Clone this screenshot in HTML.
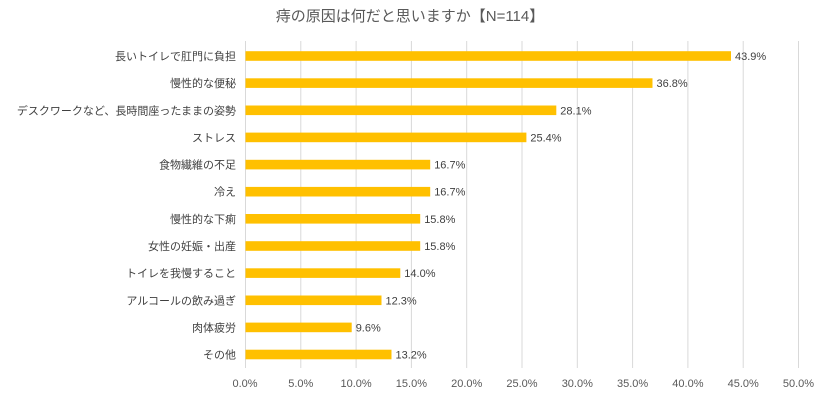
<!DOCTYPE html><html><head><meta charset="utf-8"><style>body{margin:0;background:#fff}</style></head><body>
<svg width="826" height="402" xmlns="http://www.w3.org/2000/svg" font-family="'Liberation Sans','Noto Sans CJK JP',sans-serif">
<rect width="826" height="402" fill="#fff"/>
<text x="410" y="21" text-anchor="middle" font-size="15" fill="#595959">痔の原因は何だと思いますか【N=114】</text>
<g stroke="#d9d9d9" stroke-width="1">
<line x1="245.5" y1="41" x2="245.5" y2="368"/><line x1="300.8" y1="41" x2="300.8" y2="368"/><line x1="356.1" y1="41" x2="356.1" y2="368"/><line x1="411.4" y1="41" x2="411.4" y2="368"/><line x1="466.7" y1="41" x2="466.7" y2="368"/><line x1="522" y1="41" x2="522" y2="368"/><line x1="577.3" y1="41" x2="577.3" y2="368"/><line x1="632.6" y1="41" x2="632.6" y2="368"/><line x1="687.9" y1="41" x2="687.9" y2="368"/><line x1="743.2" y1="41" x2="743.2" y2="368"/><line x1="798.5" y1="41" x2="798.5" y2="368"/>
</g>
<g fill="#595959" font-size="11" text-anchor="middle">
<text x="245" y="387">0.0%</text><text x="300.8" y="387">5.0%</text><text x="356.1" y="387">10.0%</text><text x="411.4" y="387">15.0%</text><text x="466.7" y="387">20.0%</text><text x="522" y="387">25.0%</text><text x="577.3" y="387">30.0%</text><text x="632.6" y="387">35.0%</text><text x="687.9" y="387">40.0%</text><text x="743.2" y="387">45.0%</text><text x="798.5" y="387">50.0%</text>
</g>
<g fill="#FFC000">
<rect x="245.5" y="51.2" width="485.5" height="9.6"/>
<rect x="245.5" y="78.3" width="407" height="9.6"/>
<rect x="245.5" y="105.5" width="310.8" height="9.6"/>
<rect x="245.5" y="132.6" width="280.9" height="9.6"/>
<rect x="245.5" y="159.8" width="184.7" height="9.6"/>
<rect x="245.5" y="186.9" width="184.7" height="9.6"/>
<rect x="245.5" y="214" width="174.7" height="9.6"/>
<rect x="245.5" y="241.2" width="174.7" height="9.6"/>
<rect x="245.5" y="268.3" width="154.8" height="9.6"/>
<rect x="245.5" y="295.5" width="136" height="9.6"/>
<rect x="245.5" y="322.6" width="106.2" height="9.6"/>
<rect x="245.5" y="349.7" width="146" height="9.6"/>
</g>
<g fill="#404040" font-size="11" text-anchor="end">
<text x="236" y="60">長いトイレで肛門に負担</text>
<text x="236" y="87.1">慢性的な便秘</text>
<text x="236" y="114.3">デスクワークなど、長時間座ったままの姿勢</text>
<text x="236" y="141.4">ストレス</text>
<text x="236" y="168.6">食物繊維の不足</text>
<text x="236" y="195.7">冷え</text>
<text x="236" y="222.8">慢性的な下痢</text>
<text x="236" y="250">女性の妊娠・出産</text>
<text x="236" y="277.1">トイレを我慢すること</text>
<text x="236" y="304.3">アルコールの飲み過ぎ</text>
<text x="236" y="331.4">肉体疲労</text>
<text x="236" y="358.5">その他</text>
</g>
<g fill="#404040" font-size="11">
<text x="735" y="60">43.9%</text>
<text x="656.5" y="87.1">36.8%</text>
<text x="560.3" y="114.3">28.1%</text>
<text x="530.4" y="141.4">25.4%</text>
<text x="434.2" y="168.6">16.7%</text>
<text x="434.2" y="195.7">16.7%</text>
<text x="424.2" y="222.8">15.8%</text>
<text x="424.2" y="250">15.8%</text>
<text x="404.3" y="277.1">14.0%</text>
<text x="385.5" y="304.3">12.3%</text>
<text x="355.7" y="331.4">9.6%</text>
<text x="395.5" y="358.5">13.2%</text>
</g>
</svg></body></html>
